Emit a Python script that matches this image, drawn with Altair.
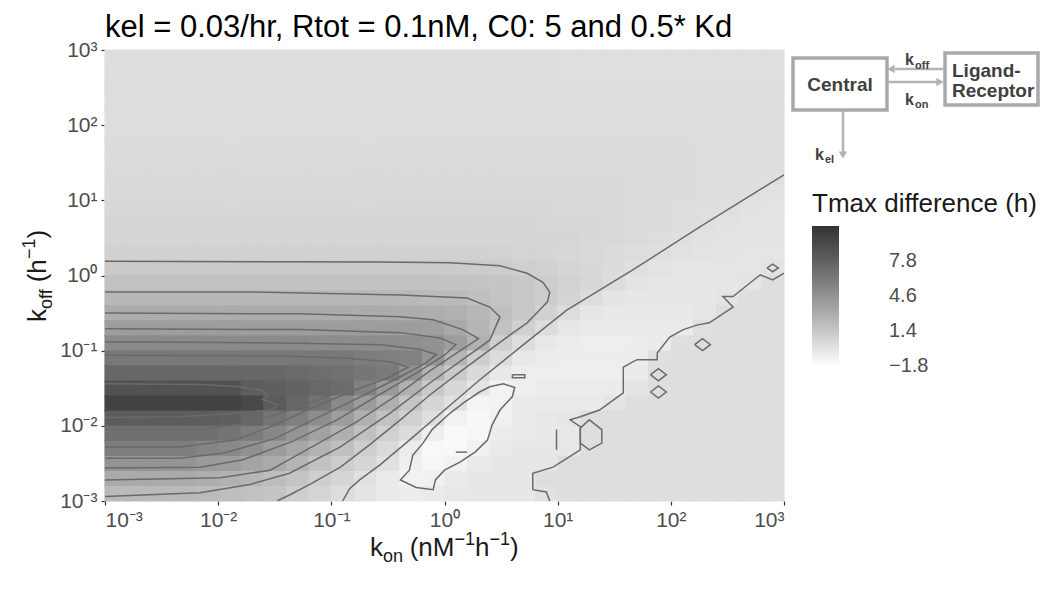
import altair as alt
import pandas as pd

FONT = "Liberation Sans"

# ---------------- data (log10 units) ----------------
KON_EDGES = [-3.0, -2.8, -2.6, -2.4, -2.2, -2.0, -1.8, -1.6, -1.4, -1.2, -1.0, -0.8, -0.6, -0.4, -0.2,
             0.0, 0.2, 0.4, 0.6, 0.8, 1.0, 1.2, 1.4, 1.6, 1.8, 2.0, 2.2, 2.4, 2.6, 2.8, 3.0]
KOFF_EDGES = [3.0, 2.8, 2.6, 2.4, 2.2, 2.0, 1.8, 1.6, 1.4, 1.2, 1.0, 0.8, 0.6, 0.4, 0.2, 0.0,
              -0.2, -0.4, -0.6, -0.8, -1.0, -1.2, -1.4, -1.6, -1.8, -2.0, -2.2, -2.4, -2.6, -2.8, -3.0]

# Tmax difference (h); rows top (koff=10^3) to bottom, columns kon 10^-3 .. 10^3
TMAX = [
    [0.05]*20 + [0.03]*10,
    [0.05]*20 + [0.03]*10,
    [0.1]*20 + [0.08]*5 + [0.05]*5,
    [0.1]*20 + [0.08]*5 + [0.06]*5,
    [0.15]*19 + [0.13]*4 + [0.1]*4 + [0.08]*3,
    [0.15]*19 + [0.13]*4 + [0.1]*4 + [0.08]*3,
    [0.2]*25 + [0.18, 0.15, 0.12, 0.1, 0.07],
    [0.25]*23 + [0.23, 0.2, 0.18, 0.15, 0.12, 0.08, 0.05],
    [0.3]*22 + [0.28, 0.25, 0.22, 0.18, 0.14, 0.1, 0.05, 0.0],
    [0.35]*21 + [0.33, 0.3, 0.26, 0.22, 0.17, 0.12, 0.06, 0.0, -0.1],
    [0.4]*20 + [0.38, 0.35, 0.3, 0.25, 0.2, 0.13, 0.07, 0.0, -0.1, -0.2],
    [0.5]*19 + [0.48, 0.45, 0.4, 0.33, 0.25, 0.17, 0.08, 0.0, -0.12, -0.22, -0.28],
    [0.6]*18 + [0.58, 0.55, 0.5, 0.42, 0.33, 0.22, 0.1, 0.0, -0.15, -0.25, -0.3, -0.3],
    [0.8]*17 + [0.75, 0.65, 0.55, 0.45, 0.35, 0.25, 0.12, 0.02, -0.1, -0.2, -0.3, -0.35, -0.35],
    [1.2]*15 + [1.15, 1.1, 1.05, 0.95, 0.8, 0.6, 0.4, 0.2, 0.03, -0.2, -0.35, -0.35, -0.35, -0.35, -0.2],
    [1.7]*16 + [1.65, 1.55, 1.35, 1.05, 0.75, 0.45, 0.1, -0.25, -0.35, -0.4, -0.4, -0.4, -0.3, 0.05],
    [2.3]*13 + [2.25, 2.2, 2.1, 1.9, 1.6, 1.35, 1.05, 0.65, 0.15, -0.3, -0.45, -0.45, -0.45, -0.45, -0.3, 0.05, 0.05],
    [3.0]*13 + [2.95, 2.9, 2.7, 2.35, 1.9, 1.35, 0.8, 0.1, -0.4, -0.55, -0.55, -0.55, -0.55, -0.4, 0.05, 0.05, 0.05],
    [3.95]*12 + [3.95, 3.9, 3.8, 3.2, 2.5, 1.7, 0.85, 0.15, -0.45, -0.65, -0.7, -0.7, -0.7, -0.6, 0.0, 0.05, 0.05, 0.05],
    [5.1]*9 + [5.0, 5.0, 4.95, 4.9, 4.8, 4.6, 3.9, 2.7, 0.95, 0.1, -0.5, -0.75, -0.85, -0.85, -0.8, -0.7, 0.0, 0.05, 0.05, 0.05, 0.05],
    [6.25]*9 + [6.25, 6.2, 5.95, 5.8, 5.6, 4.5, 2.5, 1.0, 0.2, -0.5, -0.75, -0.8, -0.8, -0.8, -0.75, 0.0, 0.05, 0.05, 0.05, 0.05, 0.05],
    [7.35]*8 + [7.1, 6.9, 6.7, 6.4, 6.1, 4.6, 2.5, 1.2, 0.3, -0.5, -0.8, -0.85, -0.85, -0.85, -0.85, -0.6, 0.05] + [0.05]*5,
    [8.8]*6 + [8.0, 7.9, 7.6, 7.3, 7.0, 5.7, 4.1, 2.7, 1.3, 0.4, -0.3, -1.1, -0.9, -0.75, -0.75, -0.75, -0.7, -0.3, 0.05] + [0.05]*5,
    [9.9]*6 + [9.5, 8.2, 7.4, 6.6, 5.2, 4.0, 2.8, 1.5, 0.6, -0.1, -1.2, -1.1, -0.7, -0.6, -0.6, -0.6, -0.3, 0.05] + [0.05]*6,
    [8.0]*5 + [7.9, 7.4, 6.5, 5.8, 4.9, 3.9, 2.8, 1.7, 0.8, 0.05, -1.1, -1.4, -1.0, -0.6, -0.5, -0.4, 0.05] + [0.05]*8,
    [6.8]*4 + [6.8, 6.5, 6.0, 5.3, 4.5, 3.6, 2.8, 1.8, 0.9, 0.2, -0.9, -1.5, -1.3, -0.8, -0.6, -0.5, -0.5, 0.05] + [0.05]*8,
    [5.85]*4 + [5.5, 5.2, 4.7, 4.0, 3.3, 2.6, 1.9, 1.0, 0.3, -0.7, -1.4, -1.5, -1.0, -0.6, -0.45, -0.45, -0.45, 0.05] + [0.05]*8,
    [4.5]*4 + [4.1, 3.9, 3.5, 3.1, 2.5, 1.7, 1.05, 0.5, -0.1, -0.9, -1.3, -1.1, -0.6, -0.45, -0.45, -0.45, 0.05] + [0.05]*9,
    [3.15]*4 + [2.9, 2.7, 2.4, 2.0, 1.6, 1.0, 0.5, -0.1, -0.6, -1.1, -1.0, -0.6, -0.45, -0.45, -0.45, 0.05] + [0.05]*10,
    [2.2]*4 + [2.1, 1.95, 1.75, 1.5, 1.0, 0.6, 0.1, -0.3, -0.6, -0.8, -0.7, -0.5, -0.45, -0.45, -0.45, -0.1] + [0.05]*10,
]
for row in TMAX:
    assert len(row) == 30, len(row)

# contour paths, (log10 kon, log10 koff)
CONTOURS = {
    "L0": [(3.0, 1.34), (2.26, 0.65), (1.66, 0.07), (1.08, -0.46), (0.64, -0.99), (0.31, -1.39),
           (0.0, -1.79), (-0.31, -2.19), (-0.57, -2.52), (-0.75, -2.72), (-0.84, -2.84), (-0.9, -3.0)],
    "L1": [(-3.0, 0.19), (-0.6, 0.18), (0.05, 0.17), (0.49, 0.13), (0.73, 0.03), (0.87, -0.09), (0.93, -0.22),
           (0.91, -0.35), (0.84, -0.46), (0.73, -0.63), (0.58, -0.79), (0.40, -0.99), (0.14, -1.28),
           (-0.13, -1.59), (-0.39, -1.92), (-0.66, -2.25), (-0.92, -2.55), (-1.19, -2.78), (-1.37, -2.92),
           (-1.48, -3.0)],
    "L2": [(-3.0, -0.22), (-1.72, -0.22), (-0.39, -0.26), (0.20, -0.30), (0.40, -0.42), (0.49, -0.55),
           (0.40, -0.86), (0.16, -1.12), (-0.13, -1.43), (-0.48, -1.83), (-0.92, -2.28), (-1.37, -2.63),
           (-1.72, -2.78), (-2.16, -2.89), (-3.0, -2.94)],
    "L3": [(-3.0, -0.50), (-1.28, -0.51), (-0.39, -0.55), (-0.10, -0.59), (0.16, -0.72), (0.30, -0.84),
           (0.15, -0.99), (-0.12, -1.26), (-0.42, -1.59), (-0.78, -1.95), (-1.22, -2.32), (-1.54, -2.59),
           (-1.98, -2.69), (-3.0, -2.72)],
    "L4": [(-3.0, -0.71), (-1.28, -0.72), (-0.39, -0.76), (-0.04, -0.83), (0.10, -0.92), (0.0, -1.06),
           (-0.25, -1.30), (-0.58, -1.59), (-0.95, -1.92), (-1.35, -2.21), (-1.78, -2.45), (-2.16, -2.55),
           (-3.0, -2.56)],
    "L5": [(-3.0, -0.88), (-1.28, -0.90), (-0.57, -0.92), (-0.22, -0.98), (-0.07, -1.05), (-0.17, -1.17),
           (-0.42, -1.37), (-0.75, -1.62), (-1.12, -1.89), (-1.50, -2.17), (-1.95, -2.36), (-2.34, -2.43),
           (-3.0, -2.43)],
    "L6": [(-3.0, -1.06), (-1.45, -1.07), (-0.84, -1.10), (-0.48, -1.15), (-0.32, -1.22), (-0.50, -1.36),
           (-0.80, -1.53), (-1.15, -1.75), (-1.50, -1.99), (-1.85, -2.19), (-2.34, -2.28), (-3.0, -2.28)],
    "L7": [(-3.0, -1.23), (-1.72, -1.23), (-1.28, -1.28), (-1.01, -1.39), (-0.88, -1.50), (-1.10, -1.65),
           (-1.40, -1.81), (-1.75, -1.97), (-2.16, -2.05), (-3.0, -2.05)],
    "L8": [(-3.0, -1.44), (-2.16, -1.45), (-1.81, -1.48), (-1.61, -1.53), (-1.56, -1.60), (-1.61, -1.65),
           (-1.47, -1.72), (-1.54, -1.79), (-1.90, -1.84), (-2.34, -1.88), (-3.0, -1.89)],
    "island": [(0.52, -1.44), (0.62, -1.49), (0.60, -1.61), (0.49, -1.79), (0.42, -1.99), (0.38, -2.19),
               (0.27, -2.35), (0.14, -2.48), (0.0, -2.59), (-0.08, -2.72), (-0.10, -2.85), (-0.25, -2.82),
               (-0.39, -2.72), (-0.31, -2.59), (-0.28, -2.39), (-0.19, -2.23), (-0.11, -2.05), (0.05, -1.83),
               (0.18, -1.68), (0.31, -1.55), (0.40, -1.48), (0.52, -1.44)],
    "jag": [(0.93, -3.0), (0.90, -2.88), (0.78, -2.85), (0.78, -2.63), (0.96, -2.55), (1.20, -2.32),
            (1.20, -2.01), (1.11, -1.92), (1.20, -1.88), (1.37, -1.79), (1.58, -1.56), (1.58, -1.22),
            (1.70, -1.12), (1.88, -1.12), (1.88, -1.03), (1.99, -0.82), (2.11, -0.72), (2.23, -0.66),
            (2.34, -0.63), (2.55, -0.42), (2.46, -0.28), (2.55, -0.28), (2.79, 0.01), (2.90, -0.06), (3.0, 0.03)],
    "d1": [(2.21, -0.92), (2.28, -0.84), (2.35, -0.92), (2.28, -1.0), (2.21, -0.92)],
    "d2": [(1.82, -1.32), (1.89, -1.24), (1.96, -1.32), (1.89, -1.40), (1.82, -1.32)],
    "d3": [(1.82, -1.55), (1.89, -1.47), (1.96, -1.55), (1.89, -1.63), (1.82, -1.55)],
    "d4": [(2.85, 0.10), (2.90, 0.15), (2.95, 0.10), (2.90, 0.05), (2.85, 0.10)],
    "hex": [(1.20, -2.03), (1.28, -1.92), (1.39, -2.05), (1.39, -2.23), (1.28, -2.32), (1.20, -2.23), (1.20, -2.03)],
    "bar1": [(0.99, -2.05), (0.99, -2.32)],
    "box1": [(0.60, -1.32), (0.71, -1.32), (0.71, -1.36), (0.60, -1.36), (0.60, -1.32)],
    "bar2": [(0.10, -2.35), (0.20, -2.35)],
}

TICK_VALUES = [0.001, 0.01, 0.1, 1, 10, 100, 1000]
LEGEND_VALUES = [-1.8, 1.4, 4.6, 7.8]
COLOR_DOMAIN = [-1.81, 11.0]

# ---------------- tables ----------------
cells = []
for r, row in enumerate(TMAX):
    for c, val in enumerate(row):
        cells.append({
            "kon": 10 ** KON_EDGES[c], "kon2": 10 ** KON_EDGES[c + 1],
            "koff": 10 ** KOFF_EDGES[r + 1], "koff2": 10 ** KOFF_EDGES[r],
            "tmax": val, "tmax_edge": val,
        })
cells_df = pd.DataFrame(cells)

lines = []
for name, pts in CONTOURS.items():
    for k, (u, v) in enumerate(pts):
        lines.append({"id": name, "ord": k, "kon": 10 ** u, "koff": 10 ** v})
lines_df = pd.DataFrame(lines)

# ---------------- scales / axes ----------------
xs = alt.Scale(type="log", domain=[1e-3, 1e3], nice=False)
ys = alt.Scale(type="log", domain=[1e-3, 1e3], nice=False)
cs = alt.Scale(domain=COLOR_DOMAIN, range=["#ffffff", "#333333"], interpolate="lab")
cs_edge = alt.Scale(domain=COLOR_DOMAIN, range=["#ffffff", "#333333"], interpolate="lab")

sup_expr = ("'10' + replace(replace(replace(replace(replace('' + round(log(datum.value)/LN10), "
            "'-', '\u207b'), '0', '\u2070'), '1', '\u00b9'), '2', '\u00b2'), '3', '\u00b3')")

axis_common = dict(values=TICK_VALUES, labelExpr=sup_expr, title=None, grid=False, domain=False,
                   ticks=True, tickColor="#333333", tickSize=4, tickWidth=1.2,
                   labelFont=FONT, labelFontSize=21, labelColor="#4d4d4d")

# under-layer: same cells with a thin outline, hides anti-aliasing seams between rects
under = alt.Chart(cells_df).mark_rect(strokeWidth=1.2).encode(
    x=alt.X("kon:Q", scale=xs, axis=alt.Axis(labelPadding=4, **axis_common)),
    x2="kon2:Q",
    y=alt.Y("koff:Q", scale=ys, axis=alt.Axis(labelPadding=4, **axis_common)),
    y2="koff2:Q",
    fill=alt.Fill("tmax_edge:Q", scale=cs_edge, legend=None),
    stroke=alt.Stroke("tmax_edge:Q", scale=cs_edge, legend=None),
)

heat = alt.Chart(cells_df).mark_rect().encode(
    x=alt.X("kon:Q", scale=xs),
    x2="kon2:Q",
    y=alt.Y("koff:Q", scale=ys),
    y2="koff2:Q",
    color=alt.Color("tmax:Q", scale=cs, legend=alt.Legend(
        type="gradient", title="Tmax difference (h)", orient="none", legendX=707, legendY=141,
        direction="vertical", gradientLength=140, gradientThickness=27,
        gradientStrokeWidth=0, values=LEGEND_VALUES, format=".1f",
        titleFont=FONT, titleFontSize=26, titleFontWeight="normal", titleColor="#1a1a1a",
        titlePadding=9, titleLimit=400, labelFont=FONT, labelFontSize=20, labelColor="#4d4d4d",
        labelAlign="right", labelOffset=50, labelOverlap=False)),
)

contours = alt.Chart(lines_df).mark_line(color="#6a6a6a", strokeWidth=1.5, clip=True).encode(
    x=alt.X("kon:Q", scale=xs),
    y=alt.Y("koff:Q", scale=ys),
    detail="id:N",
    order="ord:Q",
)

# ---------------- annotations (pixel placed, relative to plot origin) ----------------
ONE = alt.Data(values=[{}])


def txt(s, x, y, size, weight="normal", angle=0, align="left", baseline="alphabetic", color="#1a1a1a"):
    return alt.Chart(ONE).mark_text(text=s, font=FONT, fontSize=size, fontWeight=weight, angle=angle,
                                    align=align, baseline=baseline, color=color).encode(
        x=alt.value(x), y=alt.value(y))


def rule(x1, y1, x2, y2, color="#b3b3b3", width=2.5):
    return alt.Chart(ONE).mark_rule(color=color, strokeWidth=width).encode(
        x=alt.value(x1), x2=alt.value(x2), y=alt.value(y1), y2=alt.value(y2))


def head(x, y, shape, color="#b3b3b3", size=70):
    return alt.Chart(ONE).mark_point(shape=shape, filled=True, size=size, color=color, opacity=1).encode(
        x=alt.value(x), y=alt.value(y))


def box(x1, y1, x2, y2):
    return alt.Chart(ONE).mark_rect(fill="white", stroke="#a9a9a9", strokeWidth=3.5).encode(
        x=alt.value(x1), x2=alt.value(x2), y=alt.value(y1), y2=alt.value(y2))


AXC = "#1a1a1a"
ann = []
# x axis title: k_on (nM^-1 h^-1)
bx, by = 265, 506
ann += [txt("k", bx, by, 26, color=AXC), txt("on", bx + 13, by + 6, 18, color=AXC),
        txt("(nM", bx + 39.7, by, 26, color=AXC), txt("\u22121", bx + 84.5, by - 11, 18, color=AXC),
        txt("h", bx + 105, by, 26, color=AXC), txt("\u22121", bx + 119.5, by - 11, 18, color=AXC),
        txt(")", bx + 140, by, 26, color=AXC)]
# y axis title: k_off (h^-1), rotated
yx, yy = -59, 272
ann += [txt("k", yx, yy, 26, angle=270, color=AXC), txt("off", yx + 6, yy - 13, 18, angle=270, color=AXC),
        txt("(h", yx, yy - 39.7, 26, angle=270, color=AXC),
        txt("\u22121", yx - 11, yy - 63, 18, angle=270, color=AXC),
        txt(")", yx, yy - 83.5, 26, angle=270, color=AXC)]
# compartment diagram
DG = "#404040"
ann += [rule(790, 19, 838, 19), head(786, 19, "triangle-left"),
        rule(783, 32, 832, 32), head(835, 32, "triangle-right"),
        rule(738, 60, 738, 102), head(738, 105, "triangle-down"),
        box(688, 8, 782, 60), box(840, 3, 933, 55),
        txt("Central", 735, 35, 19, weight="bold", align="center", baseline="middle", color=DG),
        txt("Ligand-", 847, 27, 19, weight="bold", color=DG),
        txt("Receptor", 847, 47, 19, weight="bold", color=DG),
        txt("k", 800, 15, 16, weight="bold", color=DG), txt("off", 810, 19, 11, weight="bold", color=DG),
        txt("k", 800, 55, 16, weight="bold", color=DG), txt("on", 810, 58, 11, weight="bold", color=DG),
        txt("k", 710, 110, 16, weight="bold", color=DG), txt("el", 720, 113, 11, weight="bold", color=DG)]
# small white ticks across the colour bar (as in the reference legend)
for ty in (210, 245, 280):
    ann += [rule(708, ty, 713, ty, color="#f2f2f2", width=1), rule(729, ty, 734, ty, color="#f2f2f2", width=1)]

chart = alt.layer(under, heat, contours, *ann).properties(
    width=679, height=451,
    padding={"left": 105, "top": 50, "right": 262, "bottom": 88},
    autosize=alt.AutoSizeParams(type="none"),
    title=alt.TitleParams(text="kel = 0.03/hr, Rtot = 0.1nM, C0: 5 and 0.5* Kd", anchor="start",
                          frame="group", font=FONT, fontSize=31, fontWeight="normal",
                          color="#000000", offset=8, dy=13),
).resolve_scale(color="independent", fill="independent", stroke="independent").configure_view(stroke=None)

chart.save("out.html", embed_options={"renderer": "svg", "actions": False})
